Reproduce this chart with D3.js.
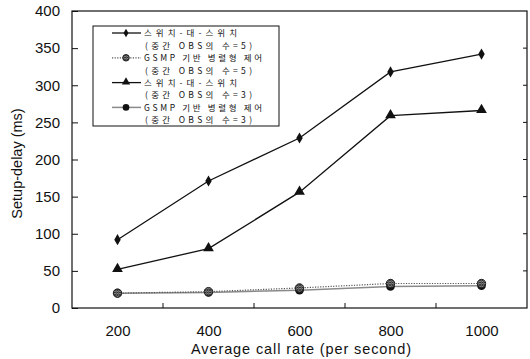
<!DOCTYPE html>
<html>
<head>
<meta charset="utf-8">
<script src="https://cdn.jsdelivr.net/npm/d3@7"></script>
<style>
  body { margin: 0; background: #fff; }
  svg { display: block; }
  text { font-family: "Liberation Sans", Arial, sans-serif; fill: #111; }
  .legend text { font-family: "Noto Sans CJK KR", sans-serif; font-size: 8.5px; }
</style>
</head>
<body>
<svg id="chart" width="530" height="359"></svg>
<script>
// call rate (per second)
var rates = [200, 400, 600, 800, 1000];
var yTicks = [0, 50, 100, 150, 200, 250, 300, 350, 400];
var xMinorTicks = [300, 500, 700, 900];

// setup delay (ms)
var switchObs5 = [92, 171, 229, 318, 342];
var gsmpObs5 = [20, 22, 27, 33, 33];
var switchObs3 = [52, 80, 156, 259, 266];
var gsmpObs3 = [20, 21, 24, 29, 30];

var legendLabels = [
  ['스위치-대-스위치', '(중간 OBS의 수=5)'],
  ['GSMP 기반 병렬형 제어', '(중간 OBS의 수=5)'],
  ['스위치-대-스위치', '(중간 OBS의 수=3)'],
  ['GSMP 기반 병렬형 제어', '(중간 OBS의 수=3)']
];

var svg = d3.select('#chart');
var plotL = 72, plotR = 527, plotT = 11, plotB = 308;

var x = d3.scaleLinear().domain([100, 1100]).range([plotL, plotR]);
var y = d3.scaleLinear().domain([0, 400]).range([plotB, plotT]);

// hatched marker fill
var defs = svg.append('defs');
var pat = defs.append('pattern')
  .attr('id', 'hatch')
  .attr('patternUnits', 'userSpaceOnUse')
  .attr('width', 2.5).attr('height', 2.5);
pat.append('rect').attr('width', 2.5).attr('height', 2.5).attr('fill', '#ddd');
pat.append('path').attr('d', 'M0,0L2.5,2.5M2.5,0L0,2.5')
  .attr('stroke', '#222').attr('stroke-width', 0.9);

var series = [
  {values: switchObs5, color: '#111', width: 1.3, dash: null, marker: 'diamond'},
  {values: gsmpObs5, color: '#555', width: 1.2, dash: '1.2,1.4', marker: 'hatch'},
  {values: switchObs3, color: '#111', width: 1.3, dash: null, marker: 'triangle'},
  {values: gsmpObs3, color: '#8a8a8a', width: 1.5, dash: null, marker: 'circle'}
];

// frame
svg.append('rect')
  .attr('x', plotL).attr('y', plotT)
  .attr('width', plotR - plotL).attr('height', plotB - plotT)
  .attr('fill', 'none').attr('stroke', '#111').attr('stroke-width', 1.2);

// y axis
var yAxis = d3.axisLeft(y).tickValues(yTicks).tickSize(-6).tickPadding(12);
var gy = svg.append('g').attr('transform', 'translate(' + plotL + ',0)').call(yAxis);
gy.select('.domain').remove();
gy.selectAll('.tick line').attr('stroke', '#111');
gy.selectAll('.tick text').attr('font-size', 15).attr('fill', '#111');

// right side ticks
svg.append('g').selectAll('line')
  .data(yTicks.slice(1, -1))
  .enter()
  .append('line')
  .attr('x1', plotR).attr('x2', plotR - 4)
  .attr('y1', function(d) { return y(d); })
  .attr('y2', function(d) { return y(d); })
  .attr('stroke', '#111');

// x axis labels
var xAxis = d3.axisBottom(x).tickValues(rates).tickFormat(d3.format('d'))
  .tickSize(0).tickPadding(17);
var gx = svg.append('g').attr('transform', 'translate(0,' + plotB + ')').call(xAxis);
gx.select('.domain').remove();
gx.selectAll('.tick text').attr('font-size', 15).attr('fill', '#111');

svg.append('g').selectAll('line')
  .data(xMinorTicks)
  .enter()
  .append('line')
  .attr('x1', function(d) { return x(d); })
  .attr('x2', function(d) { return x(d); })
  .attr('y1', plotB).attr('y2', plotB - 5)
  .attr('stroke', '#111');

svg.append('text')
  .attr('x', (plotL + plotR) / 2 + 2).attr('y', 354)
  .attr('text-anchor', 'middle')
  .attr('font-size', 14.5)
  .attr('letter-spacing', 0.9)
  .text('Average call rate (per second)');

svg.append('text')
  .attr('transform', 'translate(22,' + ((plotT + plotB) / 2 + 4) + ') rotate(-90)')
  .attr('text-anchor', 'middle')
  .attr('font-size', 14.5)
  .text('Setup-delay (ms)');

function drawMarker(g, kind, cx, cy, scale) {
  var s = scale || 1;
  if (kind === 'diamond') {
    g.append('path')
      .attr('d', d3.symbol().type(d3.symbolDiamond).size(36 * s)())
      .attr('transform', 'translate(' + cx + ',' + cy + ')')
      .attr('fill', '#111');
  } else if (kind === 'triangle') {
    g.append('path')
      .attr('d', d3.symbol().type(d3.symbolTriangle).size(50 * s)())
      .attr('transform', 'translate(' + cx + ',' + (cy - 0.5) + ')')
      .attr('fill', '#111');
  } else if (kind === 'hatch') {
    g.append('circle')
      .attr('cx', cx).attr('cy', cy).attr('r', 4.2 * Math.sqrt(s))
      .attr('fill', 'url(#hatch)').attr('stroke', '#222').attr('stroke-width', 1);
  } else {
    g.append('circle')
      .attr('cx', cx).attr('cy', cy).attr('r', 4.3 * Math.sqrt(s))
      .attr('fill', '#111');
  }
}

var line = d3.line()
  .x(function(d, i) { return x(rates[i]); })
  .y(function(d) { return y(d); });

var plot = svg.append('g').attr('class', 'plot');

// draw bottom series first so the dotted one stays on top like the original
[3, 1, 2, 0].forEach(function(k) {
  var s = series[k];
  plot.append('path')
    .datum(s.values)
    .attr('d', line)
    .attr('fill', 'none')
    .attr('stroke', s.color)
    .attr('stroke-width', s.width)
    .attr('stroke-dasharray', s.dash);
  s.values.forEach(function(v, i) {
    drawMarker(plot, s.marker, x(rates[i]), y(v));
  });
});

// legend
var legend = svg.append('g').attr('class', 'legend');
legend.append('rect')
  .attr('x', 93).attr('y', 26)
  .attr('width', 186).attr('height', 100)
  .attr('fill', '#fff').attr('stroke', '#111').attr('stroke-width', 1);

// the scanned legend is set with wide letter spacing, so stretch each line
function stretch(str) {
  if (str.charAt(0) === '(') return 107;
  if (str.charAt(0) === 'G') return 118;
  return 93;
}

var rowH = 12.4;
series.forEach(function(s, k) {
  var ry = 33 + k * 2 * rowH;
  legend.append('line')
    .attr('x1', 112).attr('x2', 141)
    .attr('y1', ry).attr('y2', ry)
    .attr('stroke', s.color)
    .attr('stroke-width', s.width)
    .attr('stroke-dasharray', s.dash);
  drawMarker(legend, s.marker, 126, ry, 0.6);
  legendLabels[k].forEach(function(str, j) {
    legend.append('text')
      .attr('x', 144 + j).attr('y', ry + j * rowH + 3.3)
      .attr('textLength', stretch(str))
      .attr('lengthAdjust', 'spacing')
      .text(str);
  });
});
</script>
</body>
</html>
